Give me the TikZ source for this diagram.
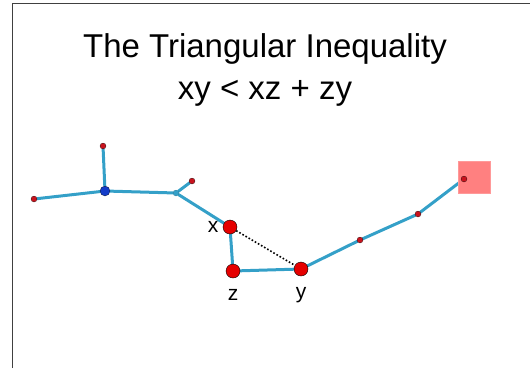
\documentclass[tikz,border=0pt]{standalone}
\usepackage{fontspec}
\setmainfont{Liberation Sans}
\usetikzlibrary{backgrounds}
\definecolor{linkblue}{RGB}{52,160,200}
\definecolor{jointred}{RGB}{200,20,30}
\definecolor{hubblue}{RGB}{20,60,200}
\begin{document}
\begin{tikzpicture}[x=1pt,y=-1pt,
	link/.style={ linkblue, line width=3pt, line cap=round },
	vertex/.style={ circle, draw=black, very thin, fill=jointred, inner sep=0pt, minimum size=6pt },
	vertexb/.style={ circle, draw=black, very thin, fill=hubblue, inner sep=0pt, minimum size=10pt },
	vertexj/.style={ circle, draw=linkblue!70!black, very thin, fill=linkblue, inner sep=0pt, minimum size=6pt },
	vertexr/.style={ circle, draw=black, thin, fill=red!90!black, inner sep=0pt, minimum size=14pt },
	tag/.style={ font=\fontsize{21}{21}\selectfont }
]
\useasboundingbox (0,0) rectangle (530,368);
\draw[line width=1pt, black!75] (12,368) -- (12,3) -- (530,3);

\node[align=center, font=\fontsize{33}{42}\selectfont] (title) at (265,70)
  {The Triangular Inequality\\xy < xz + zy};

% goal marker
\node[rectangle, fill=red!50, draw=red!40, inner sep=0pt, minimum size=32pt] (goal) at (474,177) {};

% skeleton
\node at (34,199) (l) [vertex] {};
\node at (103,146) (t) [vertex] {};
\node at (105,191) (h) [vertexb] {};
\node at (176,193) (j) [vertexj] {};
\node at (192,181) (b) [vertex] {};
\node at (230,227) (x) [vertexr,label={[tag,label distance=1pt]left:x}] {};
\node at (233,271) (z) [vertexr,label={[tag,label distance=8pt]below:z}] {};
\node at (301,269) (y) [vertexr,label={[tag,label distance=8pt]below:y}] {};
\node at (360,240) (p) [vertex] {};
\node at (418,214) (q) [vertex] {};
\node at (464,179) (e) [vertex] {};

\begin{pgfonlayer}{background}
\draw[link] (l) -- (h) -- (t);
\draw[link] (h) -- (j) -- (b);
\draw[link] (j) -- (x) -- (z) -- (y) -- (p) -- (q) -- (e);
\draw[dotted, line width=1.6pt] (x) -- (y);
\end{pgfonlayer}

\end{tikzpicture}
\end{document}
